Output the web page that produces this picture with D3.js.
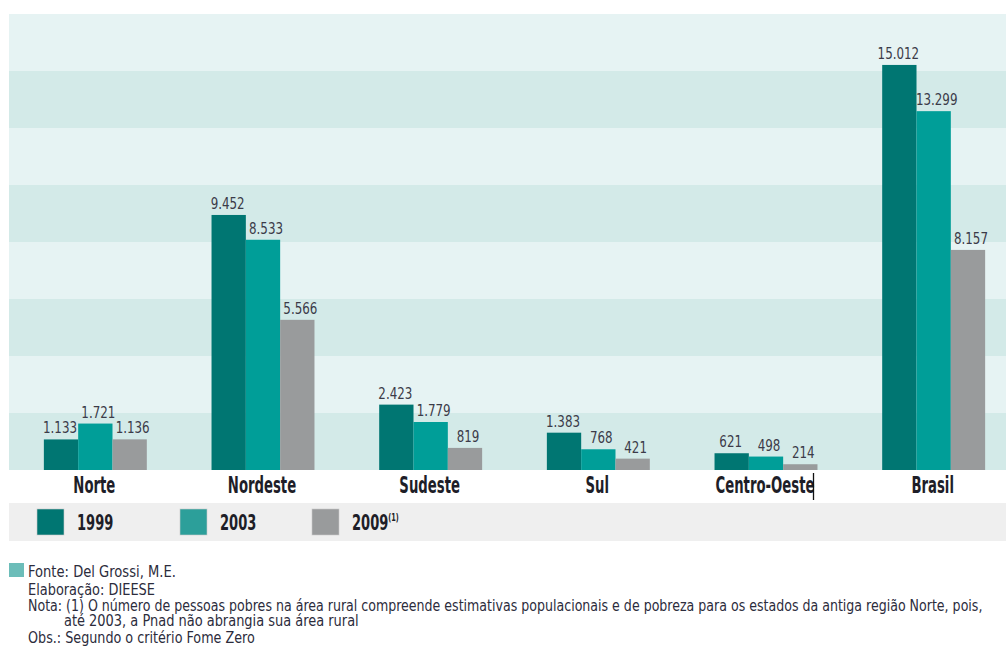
<!DOCTYPE html>
<html>
<head>
<meta charset="utf-8">
<script src="https://cdn.jsdelivr.net/npm/d3@7"></script>
<style>
  html, body { margin: 0; padding: 0; background: #fff; }
  svg { display: block; }
  .cond { font-family: "DejaVu Sans Condensed", "DejaVu Sans", sans-serif; font-stretch: condensed; }
</style>
</head>
<body>
<svg id="chart" width="1006" height="654"></svg>
<script>
const categories = ["Norte", "Nordeste", "Sudeste", "Sul", "Centro-Oeste", "Brasil"];
const seriesNames = ["1999", "2003", "2009"];
const values1999 = [1133, 9452, 2423, 1383, 621, 15012];
const values2003 = [1721, 8533, 1779, 768, 498, 13299];
const values2009 = [1136, 5566, 819, 421, 214, 8157];
const seriesColors = ["#007672", "#009e98", "#999b9c"];
const legendColors = ["#007672", "#2c9f9a", "#999b9c"];
const footerLines = [
  "Fonte: Del Grossi, M.E.",
  "Elaboração: DIEESE",
  "Nota: (1) O número de pessoas pobres na área rural compreende estimativas populacionais e de pobreza para os estados da antiga região Norte, pois,",
  "até 2003, a Pnad não abrangia sua área rural",
  "Obs.: Segundo o critério Fome Zero"
];

const seriesValues = [values1999, values2003, values2009];
const fmt = v => d3.format(",")(v).replace(/,/g, ".");

const svg = d3.select("#chart");
const W = 1006;
const plotLeft = 9, plotRight = 1006, plotTop = 14, plotBottom = 470;
const yMax = 16900;
const bandCount = 8;

const y = d3.scaleLinear().domain([0, yMax]).range([plotBottom, plotTop]);
const x = d3.scaleBand().domain(categories).range([11.5, 1017.5]).paddingInner(0.386).paddingOuter(0.193);
const xs = d3.scaleBand().domain(seriesNames).range([0, x.bandwidth()]).padding(0);

// background bands
const bandEdges = d3.range(bandCount + 1).map(i => i * yMax / bandCount);
svg.append("g").selectAll("rect")
  .data(d3.range(bandCount))
  .join("rect")
  .attr("x", plotLeft)
  .attr("width", plotRight - plotLeft)
  .attr("y", i => y(bandEdges[i + 1]))
  .attr("height", i => y(bandEdges[i]) - y(bandEdges[i + 1]))
  .attr("fill", i => i % 2 === 0 ? "#d3eae8" : "#e6f3f3");

// bars
const groups = svg.append("g").selectAll("g")
  .data(categories)
  .join("g")
  .attr("transform", c => `translate(${x(c)},0)`);

groups.selectAll("rect")
  .data((c, ci) => seriesNames.map((s, si) => ({ s, si, v: seriesValues[si][ci] })))
  .join("rect")
  .attr("x", d => xs(d.s))
  .attr("width", xs.bandwidth())
  .attr("y", d => y(d.v))
  .attr("height", d => y(0) - y(d.v))
  .attr("fill", d => seriesColors[d.si]);

groups.selectAll("text")
  .data((c, ci) => seriesNames.map((s, si) => ({ s, si, v: seriesValues[si][ci] })))
  .join("text")
  .attr("class", "cond")
  .attr("transform", d => `translate(${xs(d.s) + xs.bandwidth() / 2 + (d.si === 0 ? -1 : 3)},${y(d.v) - 6}) scale(0.8,1)`)
  .attr("text-anchor", "middle")
  .attr("font-size", 16.5)
  .attr("fill", "#3b3b48")
  .text(d => fmt(d.v));

// category labels
svg.append("g").selectAll("text")
  .data(categories)
  .join("text")
  .attr("class", "cond")
  .attr("transform", c => `translate(${x(c) + x.bandwidth() / 2 - 1},493) scale(0.64,1)`)
  .attr("text-anchor", "middle")
  .attr("font-size", 23)
  .attr("font-weight", "bold")
  .attr("fill", "#1e1e28")
  .text(c => c);

// text cursor artifact
svg.append("line")
  .attr("x1", 813.5).attr("x2", 813.5)
  .attr("y1", 473).attr("y2", 500)
  .attr("stroke", "#111").attr("stroke-width", 1.3);

// legend
svg.append("rect")
  .attr("x", plotLeft).attr("y", 503)
  .attr("width", W - plotLeft).attr("height", 38)
  .attr("fill", "#efefef");

const legendX = [37, 180, 312];
const leg = svg.append("g").selectAll("g")
  .data(seriesNames)
  .join("g")
  .attr("transform", (d, i) => `translate(${legendX[i]},509)`);
leg.append("rect")
  .attr("width", 27).attr("height", 26)
  .attr("fill", (d, i) => legendColors[i])
  .attr("stroke", "#c8c8c8").attr("stroke-width", 0.6);
const legText = leg.append("text")
  .attr("class", "cond")
  .attr("transform", "translate(40,21) scale(0.66,1)")
  .attr("font-size", 22)
  .attr("font-weight", "bold")
  .attr("fill", "#1e1e28");
legText.append("tspan").text(d => d);
legText.filter(d => d === "2009").append("tspan")
  .attr("font-size", 11).attr("dy", -9).text("(1)");

// footer
svg.append("rect")
  .attr("x", 9).attr("y", 563).attr("width", 15).attr("height", 14)
  .attr("fill", "#6cbdb9");

const footerX = [28, 28, 28, 64, 28];
const footerY = [577, 594.5, 611, 625.5, 643];
const footerW = [148, 127, 955, 295, 227];
const ft = svg.append("g").selectAll("text")
  .data(footerLines)
  .join("text")
  .attr("class", "cond")
  .attr("font-size", 16)
  .attr("fill", "#2c2c3c")
  .text(d => d);
ft.each(function (d, i) {
  const natural = this.getComputedTextLength();
  const sx = footerW[i] / natural;
  d3.select(this).attr("transform", `translate(${footerX[i]},${footerY[i]}) scale(${sx},1)`);
});
</script>
</body>
</html>
